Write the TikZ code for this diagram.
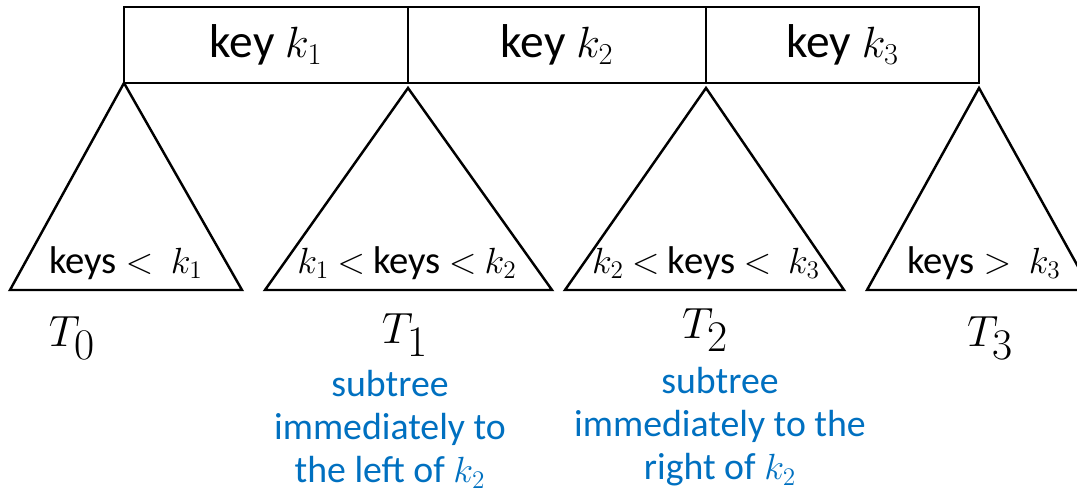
\documentclass[tikz,border=0pt]{standalone}
\usepackage{fontspec}
\setmainfont{Carlito}
\usetikzlibrary{positioning}
\definecolor{noteblue}{HTML}{0070C0}
\newcommand{\kless}{\mskip4mu{<}\mskip4mu}

\begin{document}
\begin{tikzpicture}[
			x=0.2mm,y=-0.2mm,
			node distance=0pt,
			keycell/.style={draw,line width=1.4pt,minimum height=1.52cm,inner sep=0pt,outer sep=0pt,font=\fontsize{27}{30}\selectfont},
			rng/.style={inner sep=0pt,font=\fontsize{22}{26}\selectfont},
			tlabel/.style={inner sep=0pt,font=\fontsize{36}{40}\selectfont},
			note/.style={inner sep=0pt,align=center,anchor=north,text=noteblue,font=\fontsize{21.5}{24.5}\selectfont},
			tri/.style={line width=1.4pt,line join=miter}
			]
			\useasboundingbox (0,0) rectangle (1077,487);
			\node[keycell,minimum width=5.68cm] (k1) at (266,45) {key $k_1$};
			\node[keycell,minimum width=5.96cm] (k2) [right=of k1] {key $k_2$};
			\node[keycell,minimum width=5.46cm] (k3) [right=of k2] {key $k_3$};
			\coordinate[below=0.1cm of k1.south east] (a1);
			\coordinate[below=0.1cm of k2.south east] (a2);
			\coordinate[below=0.1cm of k3.south east] (a3);
			\coordinate (b0l) at (10,290);
			\coordinate (b0r) at (242,290);
			\coordinate (b1l) at (265,290);
			\coordinate (b1r) at (552,290);
			\coordinate (b2l) at (565,290);
			\coordinate (b2r) at (844,290);
			\coordinate (b3l) at (867,290);
			\coordinate (b3r) at (1091,290);
			\draw[tri] (k1.south west) -- (b0l) -- (b0r) -- cycle;
			\draw[tri] (a1) -- (b1l) -- (b1r) -- cycle;
			\draw[tri] (a2) -- (b2l) -- (b2r) -- cycle;
			\draw[tri] (a3) -- (b3l) -- (b3r) -- cycle;
			\node[rng] (r0) at (126,263) {keys $<$\ \ $k_1$};
			\node[rng] (r1) at (407,263) {$k_1\kless$keys$\kless k_2$};
			\node[rng] (r2) at (706,263) {$k_2\kless$keys$\kless$\ $k_3$};
			\node[rng] (r3) at (984,263) {keys $>$\ \ $k_3$};
			\node[tlabel] (t0) at (72,338) {$T_0$};
			\node[tlabel] (t1) at (405,335) {$T_1$};
			\node[tlabel] (t2) at (705,330) {$T_2$};
			\node[tlabel] (t3) at (990,338) {$T_3$};
			\node[note] (n1) at (390,370) {subtree\\immediately to\\the left of $k_2$};
			\node[note] (n2) at (720,367) {subtree\\immediately to the\\right of $k_2$};
		\end{tikzpicture}
\end{document}
